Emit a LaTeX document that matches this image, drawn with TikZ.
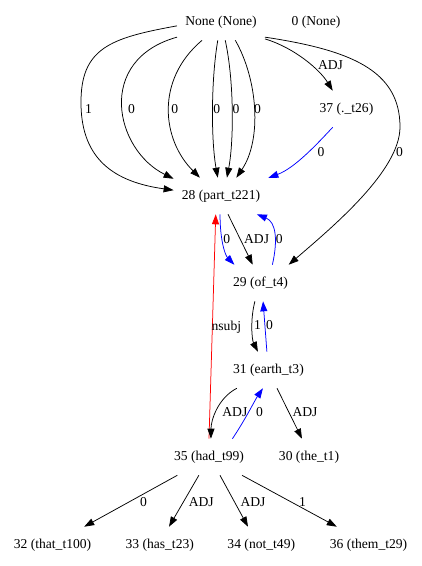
\documentclass[tikz,border=0pt]{standalone}
\usepackage{fontspec}
\setmainfont{Liberation Serif}
\usetikzlibrary{arrows.meta}

\begin{document}
\begin{tikzpicture}[
            x=1pt, y=-1pt,
            arr/.style={-{Triangle[length=10pt,width=7pt]}, line width=0.75pt},
            lab/.style={inner sep=0pt, font=\fontsize{13.6pt}{16pt}\selectfont},
            semithick
        ]

        \tikzstyle{every node}=[
            shape=rectangle,
            minimum height=36pt,
            inner xsep=8pt,
            inner ysep=0pt,
            font=\fontsize{13.6pt}{16pt}\selectfont
        ]

        \useasboundingbox (0,0) rectangle (422,566);

        \node (nNone) at (221,22) {None (None)};
        \node (n0) at (316,22) {0 (None)};
        \node (n37) at (346.5,109) {37 (.\_t26)};
        \node (n28) at (221,196) {28 (part\_t221)};
        \node (n29) at (260.5,283) {29 (of\_t4)};
        \node (n31) at (268.5,370) {31 (earth\_t3)};
        \node (n35) at (209,457) {35 (had\_t99)};
        \node (n30) at (309,457) {30 (the\_t1)};
        \node (n32) at (52.5,545) {32 (that\_t100)};
        \node (n33) at (159.7,545) {33 (has\_t23)};
        \node (n34) at (261.3,545) {34 (not\_t49)};
        \node (n36) at (368.5,545) {36 (them\_t29)};

        \tikzstyle{every node}=[]

        % from None (None)
        \draw[arr] (nNone.185) .. controls (110,38) and (80,48) .. (81,105)
            .. controls (82,160) and (115,182) .. (n28.173)
            node[lab, pos=0, xshift=7.5pt, yshift=-4pt] {1};
        \draw[arr] (nNone.199) .. controls (95,60) and (115,150) .. (n28.160)
            node[lab, pos=.5, xshift=9pt, yshift=-3.4pt] {0};
        \draw[arr] (nNone.224) .. controls (155,80) and (162,140) .. (n28.139)
            node[lab, pos=.5, xshift=5.6pt, yshift=0.6pt] {0};
        \draw[arr] (nNone.260) .. controls (211,80) and (211,140) .. (n28.100)
            node[lab, pos=.5, xshift=4.2pt, yshift=0.6pt] {0};
        \draw[arr] (nNone.283) .. controls (234,80) and (234,140) .. (n28.72)
            node[lab, pos=.5, xshift=4pt, yshift=0.6pt] {0};
        \draw[arr] (nNone.308) .. controls (258,80) and (262,140) .. (n28.50)
            node[lab, pos=.5, xshift=3.6pt, yshift=0.6pt] {0};
        \draw[arr] (nNone.339) .. controls (295,48) and (320,70) .. (n37.127)
            node[lab, pos=.5, xshift=25.2pt, yshift=-4.6pt] {ADJ};
        \draw[arr] (nNone.341) .. controls (350,50) and (400,70) .. (400,127)
            .. controls (400,170) and (335,225) .. (n29.33)
            node[lab, pos=.15, xshift=3.7pt, yshift=-5pt] {0};
        \draw[arr, blue] (n37.233) .. controls (318,143) and (295,168) .. (n28.21)
            node[lab, black, pos=.5, xshift=16pt, yshift=2.6pt] {0};

        % between 28, 29 and 31
        \draw[arr, blue] (n28.267) .. controls (220,240) and (225,255) .. (n29.145)
            node[lab, black, pos=.5, xshift=3.2pt, yshift=6.5pt] {0};
        \draw[arr] (n28.291) -- (n29.113)
            node[lab, midway, xshift=16.2pt, yshift=0.5pt] {ADJ};
        \draw[arr, blue] (n29.57) .. controls (278,240) and (276,222) .. (n28.333)
            node[lab, black, pos=.5, xshift=5.4pt, yshift=-5.9pt] {0};
        \draw[arr, red] (n35.90) -- (n28.254)
            node[lab, black, midway, xshift=14pt, yshift=-0.5pt] {nsubj};
        \draw[arr] (n29.253) .. controls (250,320) and (252,340) .. (n31.120)
            node[lab, pos=.5, xshift=5.1pt, yshift=4.1pt] {1};
        \draw[arr, blue] (n31.95) -- (n29.278)
            node[lab, black, midway, xshift=4.5pt, yshift=1.5pt] {0};

        % below 31
        \draw[arr] (n31.210) .. controls (218,398) and (211,420) .. (n35.84)
            node[lab, pos=.5, xshift=18pt, yshift=-1.9pt] {ADJ};
        \draw[arr, blue] (n35.38) .. controls (245,420) and (255,400) .. (n31.253)
            node[lab, black, pos=.5, xshift=10.1pt, yshift=-1.1pt] {0};
        \draw[arr] (n31.295) -- (n30.111)
            node[lab, midway, xshift=15.5pt, yshift=1.5pt] {ADJ};

        % from 35 (had_t99)
        \draw[arr] (n35.210) -- (n32.30)
            node[lab, midway, xshift=12.8pt, yshift=-1pt] {0};
        \draw[arr] (n35.241) -- (n33.63)
            node[lab, midway, xshift=17.3pt, yshift=-1pt] {ADJ};
        \draw[arr] (n35.301) -- (n34.126)
            node[lab, midway, xshift=19pt, yshift=-1pt] {ADJ};
        \draw[arr] (n35.331) -- (n36.150)
            node[lab, midway, xshift=13.2pt, yshift=-1pt] {1};

    \end{tikzpicture}
\end{document}
